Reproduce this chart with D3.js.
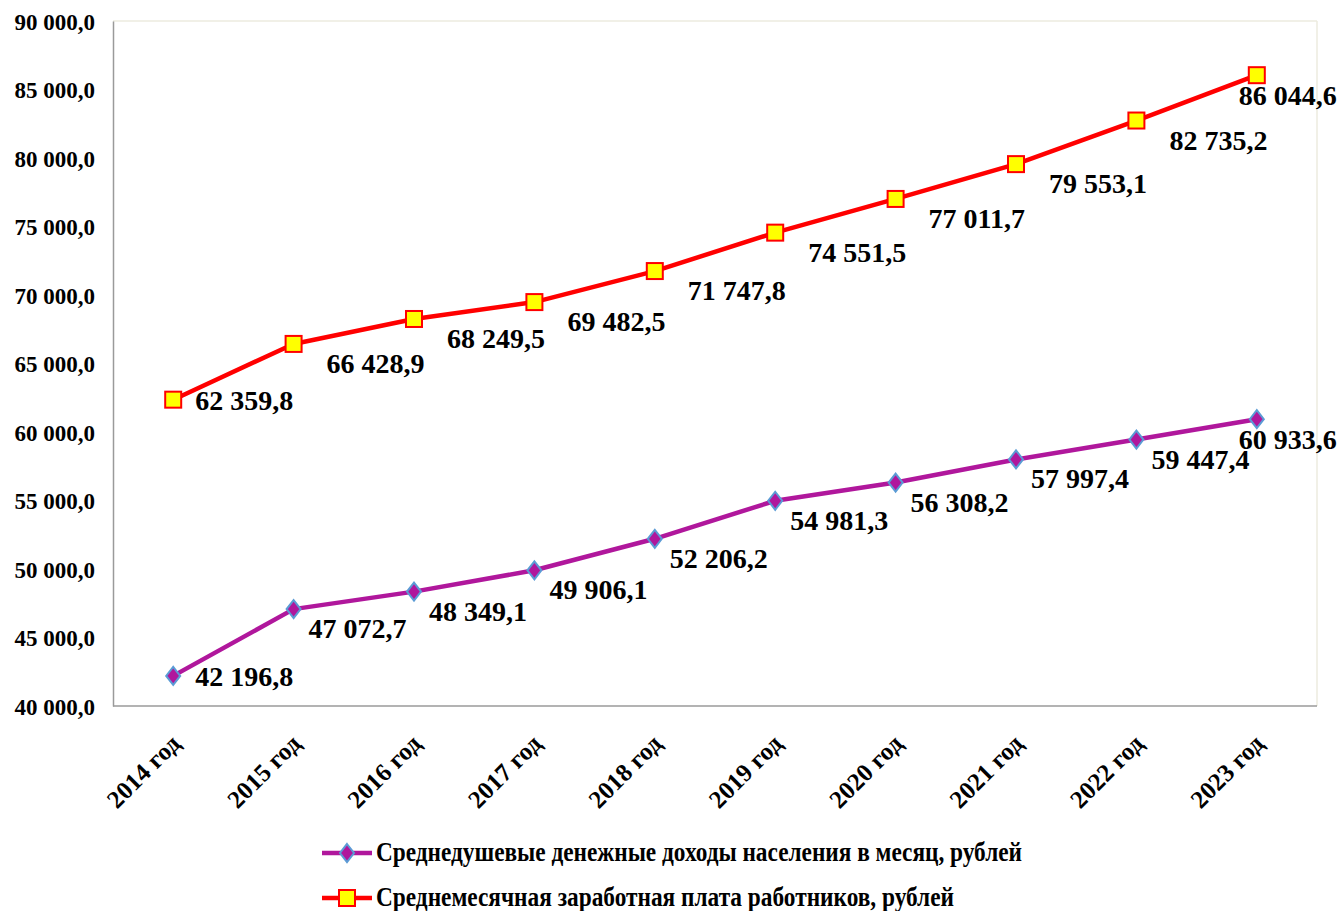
<!DOCTYPE html>
<html>
<head>
<meta charset="utf-8">
<script src="https://cdn.jsdelivr.net/npm/d3@7"></script>
<style>
  html, body { margin: 0; padding: 0; background: #fff; }
  svg { display: block; }
  text { font-family: "Liberation Serif", "Times New Roman", serif; font-weight: bold; fill: #000; }
</style>
</head>
<body>
<svg id="chart" width="1342" height="911"></svg>
<script>
// ---- data ----
const categories = ["2014 год", "2015 год", "2016 год", "2017 год", "2018 год",
                    "2019 год", "2020 год", "2021 год", "2022 год", "2023 год"];
const incomeValues = [42196.8, 47072.7, 48349.1, 49906.1, 52206.2, 54981.3, 56308.2, 57997.4, 59447.4, 60933.6];
const wageValues   = [62359.8, 66428.9, 68249.5, 69482.5, 71747.8, 74551.5, 77011.7, 79553.1, 82735.2, 86044.6];
const yTicks = [40000, 45000, 50000, 55000, 60000, 65000, 70000, 75000, 80000, 85000, 90000];
const seriesNames = ["Среднедушевые денежные доходы населения в месяц, рублей",
                     "Среднемесячная заработная плата работников, рублей"];

// ---- layout ----
const svg = d3.select("#chart");
const plot = { left: 113, right: 1317, top: 21, bottom: 706 };

const x = d3.scalePoint().domain(categories).range([plot.left, plot.right]).padding(0.5);
const y = d3.scaleLinear().domain([40000, 90000]).range([plot.bottom, plot.top]);

const fmt = v => {
  const s = d3.format(",.1f")(v);
  return s.replace(/,/g, " ").replace(".", ",");
};

// plot frame (top/right light)
svg.append("line").attr("x1", plot.left).attr("x2", plot.right).attr("y1", plot.top).attr("y2", plot.top)
  .attr("stroke", "#ecebdf").attr("stroke-width", 1.5);
svg.append("line").attr("x1", plot.right).attr("x2", plot.right).attr("y1", plot.top).attr("y2", plot.bottom)
  .attr("stroke", "#ecebdf").attr("stroke-width", 1.5);

// y axis
const yAxis = d3.axisLeft(y).tickValues(yTicks).tickSize(0).tickPadding(18).tickFormat(fmt);
const gy = svg.append("g").attr("transform", `translate(${plot.left},0)`).call(yAxis);
gy.select(".domain").attr("stroke", "#9a9a9a").attr("stroke-width", 1.5);
gy.selectAll("text").style("font-size", "23px").attr("dy", "0.35em");

// x axis
const xAxis = d3.axisBottom(x).tickSize(0).tickPadding(0);
const gx = svg.append("g").attr("transform", `translate(0,${plot.bottom})`).call(xAxis);
gx.select(".domain").attr("stroke", "#9a9a9a").attr("stroke-width", 1.5)
  .attr("d", `M${plot.left},0H${plot.right}`);
gx.selectAll("text")
  .style("font-size", "25px")
  .attr("text-anchor", "end")
  .attr("dy", 0).attr("y", 0)
  .attr("transform", "translate(8,39) rotate(-45)");

// series
const series = [
  { name: seriesNames[0], values: incomeValues, color: "#b0179c", marker: "diamond",
    fill: "#b0179c", stroke: "#5b9bd5", dx: 15, dy: 19 },
  { name: seriesNames[1], values: wageValues, color: "#ff0000", marker: "square",
    fill: "#ffff00", stroke: "#ff0000", dx: 33, dy: 19 }
];

const line = d3.line().x((d, i) => x(categories[i])).y(d => y(d));

function drawMarker(g, type, fill, stroke) {
  if (type === "diamond") {
    g.append("path").attr("d", "M0,-9L7,0L0,9L-7,0Z")
      .attr("fill", fill).attr("stroke", stroke).attr("stroke-width", 2);
  } else {
    g.append("rect").attr("x", -8).attr("y", -8).attr("width", 16).attr("height", 16)
      .attr("fill", fill).attr("stroke", stroke).attr("stroke-width", 2);
  }
}

series.forEach(s => {
  svg.append("path").datum(s.values).attr("d", line)
    .attr("fill", "none").attr("stroke", s.color).attr("stroke-width", 4.5)
    .attr("stroke-linejoin", "round");
  s.values.forEach((v, i) => {
    const g = svg.append("g").attr("transform", `translate(${x(categories[i])},${y(v)})`);
    drawMarker(g, s.marker, s.fill, s.stroke);
  });
  s.values.forEach((v, i) => {
    const px = x(categories[i]), py = y(v);
    let dx = s.dx, dy = s.dy;
    if (i === 0) { dx = 22; dy = 0; }
    if (i === s.values.length - 1) { dx = -18; dy = 20; }
    svg.append("text").attr("x", px + dx).attr("y", py + dy + 10)
      .style("font-size", "28px").text(fmt(v));
  });
});

// legend
const legendY = [853, 898];
const legendLen = [646, 578];
series.forEach((s, k) => {
  const ly = legendY[k];
  svg.append("line").attr("x1", 322).attr("x2", 372).attr("y1", ly).attr("y2", ly)
    .attr("stroke", s.color).attr("stroke-width", 4.5);
  const g = svg.append("g").attr("transform", `translate(347,${ly})`);
  drawMarker(g, s.marker, s.fill, s.stroke);
  svg.append("text").attr("x", 376).attr("y", ly + 8)
    .style("font-size", "27px")
    .attr("textLength", legendLen[k]).attr("lengthAdjust", "spacingAndGlyphs")
    .text(s.name);
});
</script>
</body>
</html>
